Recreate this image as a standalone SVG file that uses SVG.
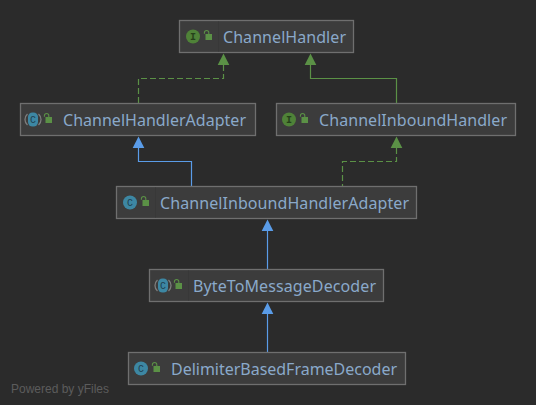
<svg xmlns="http://www.w3.org/2000/svg" width="536" height="405" viewBox="0 0 536 405">
<style>
.box{fill:#3c3c3c;stroke:#6f6f6f;stroke-width:1.3}
.sep{stroke:#383838;stroke-width:1}
.t{font-family:"Noto Sans","Open Sans",sans-serif;font-size:16px;fill:#8aa9ca}
.pw{font-family:"Liberation Sans",Arial,sans-serif;font-size:12px;fill:#5c5c5c}
.g{fill:none;stroke:#5b9146;stroke-width:1.2}
.b{fill:none;stroke:#5a9ce8;stroke-width:1.2}
.d{stroke-dasharray:6 3}
.ag{fill:#5b9146}.ab{fill:#5a9ce8}
.ci{fill:#3d87a3}.ii{fill:#4f8238}
.l{font-family:"Liberation Mono",monospace;font-size:10px;text-anchor:middle}
.lc{fill:#1f3f50}.li{fill:#25401a;font-weight:bold}
.lock{fill:#5b9146}.sh{fill:none;stroke:#5b9146;stroke-width:1.1}
.ab-r{fill:none;stroke:#7d7d7d;stroke-width:1.3}
</style>
<defs>
<g id="lock"><rect class="lock" x="0.5" y="1" width="6.5" height="6"/><path class="sh" d="M-0.6 0.8V-0.3a2.2 2.2 0 0 1 4.4 0V1.2"/></g>
<g id="ico-c"><circle class="ci" r="7"/><text class="l lc" y="3.4">C</text></g>
<g id="ico-i"><circle class="ii" r="7"/><text class="l li" y="3.4">I</text></g>
<g id="ico-a"><rect class="ci" x="-5" y="-7" width="10" height="14" rx="4.5"/><path class="ab-r" d="M-5.5 -5.6A7.5 7.5 0 0 0 -5.5 5.6M5.5 -5.6A7.5 7.5 0 0 1 5.5 5.6"/><text class="l lc" y="3.4">C</text></g>
</defs>
<rect width="536" height="405" fill="#2b2b2b"/>
<g id="connectors">
<path class="g d" d="M223.5 65V78.5H138.5V103"/>
<path class="g" d="M310.5 65V78.5H396.5V103"/>
<path class="b" d="M138.5 148V161.5H191.5V186"/>
<path class="g d" d="M396.5 148V161.5H342.5V186"/>
<path class="b" d="M267.5 231V269"/>
<path class="b" d="M267.5 314V352"/>
<path class="ag" d="M223.5 53.5l5.8 11.5h-11.6z"/>
<path class="ag" d="M310.5 53.5l5.8 11.5h-11.6z"/>
<path class="ab" d="M138.5 136.5l5.8 11.5h-11.6z"/>
<path class="ag" d="M396.5 136.5l5.8 11.5h-11.6z"/>
<path class="ab" d="M267.5 219.5l5.8 11.5h-11.6z"/>
<path class="ab" d="M267.5 302.5l5.8 11.5h-11.6z"/>
</g>
<g id="ChannelHandler"><rect class="box" x="179.5" y="20.5" width="174" height="32"/><path class="sep" d="M218.5 21.5V51.5"/><use href="#ico-i" x="193" y="36.5"/><use href="#lock" x="205" y="33"/><text class="t" x="223" y="42.5" textLength="123">ChannelHandler</text></g>
<g id="ChannelHandlerAdapter"><rect class="box" x="20.5" y="103.5" width="235" height="32"/><use href="#ico-a" x="33" y="119.5"/><use href="#lock" x="45" y="116"/><text class="t" x="63" y="125.5" textLength="183">ChannelHandlerAdapter</text></g>
<g id="ChannelInboundHandler"><rect class="box" x="276.5" y="103.5" width="239" height="32"/><use href="#ico-i" x="289" y="119.5"/><use href="#lock" x="301" y="116"/><text class="t" x="319" y="125.5" textLength="188">ChannelInboundHandler</text></g>
<g id="ChannelInboundHandlerAdapter"><rect class="box" x="116.5" y="186.5" width="300" height="32"/><path class="sep" d="M155.5 187.5V217.5"/><use href="#ico-c" x="130" y="202.5"/><use href="#lock" x="142" y="199"/><text class="t" x="160" y="208.5" textLength="249">ChannelInboundHandlerAdapter</text></g>
<g id="ByteToMessageDecoder"><rect class="box" x="149.5" y="269.5" width="234" height="32"/><path class="sep" d="M188.5 270.5V300.5"/><use href="#ico-a" x="163" y="285.5"/><use href="#lock" x="175" y="282"/><text class="t" x="193" y="291.5" textLength="183">ByteToMessageDecoder</text></g>
<g id="DelimiterBasedFrameDecoder"><rect class="box" x="128.5" y="352.5" width="277" height="32"/><use href="#ico-c" x="141" y="368.5"/><use href="#lock" x="153" y="365"/><text class="t" x="171" y="374.5" textLength="226">DelimiterBasedFrameDecoder</text></g>
<text class="pw" x="11" y="393" textLength="98">Powered by yFiles</text>
</svg>
